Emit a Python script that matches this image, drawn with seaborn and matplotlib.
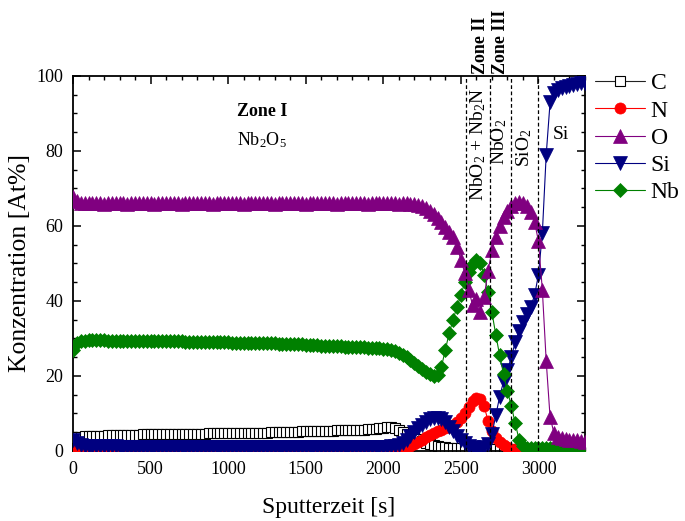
import matplotlib
matplotlib.use("Agg")
import matplotlib.pyplot as plt
import seaborn as sns
from matplotlib.ticker import MultipleLocator

# ---------------- data ----------------
TIME = [
    0, 25, 50, 75, 100, 125, 150, 175, 200, 225, 250, 275, 300, 325, 350, 375,
    400, 425, 450, 475, 500, 525, 550, 575, 600, 625, 650, 675, 700, 725, 750, 775,
    800, 825, 850, 875, 900, 925, 950, 975, 1000, 1025, 1050, 1075, 1100, 1125, 1150, 1175,
    1200, 1225, 1250, 1275, 1300, 1325, 1350, 1375, 1400, 1425, 1450, 1475, 1500, 1525, 1550, 1575,
    1600, 1625, 1650, 1675, 1700, 1725, 1750, 1775, 1800, 1825, 1850, 1875, 1900, 1925, 1950, 1975,
    2000, 2025, 2050, 2075, 2100, 2125, 2150, 2175, 2200, 2225, 2250, 2275, 2300, 2325, 2350, 2375,
    2400, 2425, 2450, 2475, 2500, 2525, 2550, 2575, 2600, 2625, 2650, 2675, 2700, 2725, 2750, 2775,
    2800, 2825, 2850, 2875, 2900, 2925, 2950, 2975, 3000, 3025, 3050, 3075, 3100, 3125, 3150, 3175,
    3200, 3225, 3250, 3275, 3300,
]

C = [
    3.2, 3.6, 3.8, 3.9, 4.0, 4.0, 4.1, 4.1, 4.1, 4.2, 4.2, 4.2, 4.2, 4.3, 4.3, 4.3,
    4.3, 4.3, 4.4, 4.4, 4.4, 4.4, 4.4, 4.5, 4.5, 4.5, 4.5, 4.5, 4.5, 4.6, 4.6, 4.6,
    4.6, 4.6, 4.6, 4.7, 4.7, 4.7, 4.7, 4.7, 4.7, 4.8, 4.8, 4.8, 4.8, 4.8, 4.9, 4.9,
    4.9, 4.9, 4.9, 5.0, 5.0, 5.0, 5.0, 5.1, 5.1, 5.1, 5.1, 5.2, 5.2, 5.2, 5.3, 5.3,
    5.3, 5.4, 5.4, 5.4, 5.5, 5.5, 5.5, 5.6, 5.6, 5.6, 5.7, 5.7, 5.8, 5.8, 5.9, 6.0,
    6.1, 6.3, 6.3, 6.0, 5.5, 5.0, 4.5, 4.0, 3.6, 3.1, 2.6, 2.2, 1.9, 1.6, 1.3, 1.1,
    1.0, 0.9, 0.8, 0.8, 0.7, 0.7, 0.6, 0.6, 0.5, 0.5, 0.5, 0.5, 0.4, 0.4, 0.4, 0.4,
    0.4, 0.4, 0.3, 0.3, 0.3, 0.3, 0.3, 0.3, 0.3, 0.3, 0.3, 0.3, 0.3, 0.3, 0.3, 0.3,
    0.3, 0.3, 0.3, 0.3, 0.3,
]

N = [
    0.3, 0.3, 0.3, 0.3, 0.3, 0.3, 0.3, 0.3, 0.3, 0.3, 0.3, 0.3, 0.3, 0.3, 0.3, 0.3,
    0.3, 0.3, 0.3, 0.3, 0.3, 0.3, 0.3, 0.3, 0.3, 0.3, 0.3, 0.3, 0.3, 0.3, 0.3, 0.3,
    0.3, 0.3, 0.3, 0.3, 0.3, 0.3, 0.3, 0.3, 0.3, 0.3, 0.3, 0.3, 0.3, 0.3, 0.3, 0.3,
    0.3, 0.3, 0.3, 0.3, 0.3, 0.3, 0.3, 0.3, 0.3, 0.3, 0.3, 0.3, 0.3, 0.3, 0.3, 0.3,
    0.3, 0.3, 0.3, 0.3, 0.3, 0.3, 0.3, 0.3, 0.3, 0.3, 0.3, 0.3, 0.3, 0.3, 0.3, 0.3,
    0.3, 0.3, 0.3, 0.3, 0.4, 0.6, 0.9, 1.3, 1.8, 2.4, 3.0, 3.6, 4.2, 4.8, 5.3, 5.7,
    6.0, 6.4, 7.0, 7.8, 8.8, 10.2, 11.8, 13.3, 14.2, 13.8, 12.0, 8.0, 5.2, 3.5, 2.3, 1.5,
    1.0, 0.6, 0.4, 0.3, 0.3, 0.3, 0.3, 0.3, 0.3, 0.3, 0.3, 0.3, 0.3, 0.3, 0.3, 0.3,
    0.3, 0.3, 0.3, 0.3, 0.3,
]

O = [
    67.8, 66.6, 66.2, 66.0, 66.0, 66.1, 66.0, 66.0, 65.9, 66.0, 66.0, 66.1, 66.0, 66.0, 65.9, 66.0,
    66.0, 66.0, 66.1, 66.0, 66.0, 65.9, 66.0, 66.0, 66.0, 66.1, 66.0, 66.0, 65.9, 66.0, 66.0, 66.0,
    66.0, 66.1, 66.0, 66.0, 65.9, 66.0, 66.0, 66.0, 66.0, 66.1, 66.0, 66.0, 65.9, 66.0, 66.0, 66.0,
    66.0, 66.1, 66.0, 66.0, 65.9, 66.0, 66.0, 66.0, 66.0, 66.1, 66.0, 66.0, 65.9, 66.0, 66.0, 66.0,
    66.0, 66.1, 66.0, 66.0, 65.9, 66.0, 66.0, 66.0, 66.0, 66.1, 66.0, 66.0, 65.9, 66.0, 66.0, 66.0,
    66.0, 66.1, 66.0, 66.0, 65.9, 66.0, 66.0, 65.9, 65.8, 65.5, 65.2, 64.7, 64.0, 63.2, 62.2, 61.0,
    59.8, 58.5, 57.0, 54.5, 51.0, 47.5, 43.0, 39.0, 40.5, 37.0, 41.0, 48.0, 53.5, 57.0, 60.0, 62.3,
    64.0, 65.2, 66.0, 66.4, 66.2, 65.3, 63.7, 61.0, 56.0, 43.0, 24.0, 9.0, 4.8, 3.8, 3.4, 3.2,
    3.0, 2.9, 2.8, 2.6, 2.5,
]

Si = [
    3.0, 2.2, 1.7, 1.4, 1.2, 1.2, 1.2, 1.2, 1.2, 1.2, 1.2, 1.2, 1.1, 1.1, 1.1, 1.1,
    1.1, 1.1, 1.1, 1.1, 1.1, 1.1, 1.1, 1.1, 1.1, 1.1, 1.1, 1.1, 1.0, 1.0, 1.0, 1.0,
    1.0, 1.0, 1.0, 1.0, 1.0, 1.0, 1.0, 1.0, 1.0, 1.0, 1.0, 1.0, 1.0, 1.0, 1.0, 1.0,
    1.0, 1.0, 1.0, 1.0, 1.0, 1.0, 1.0, 1.0, 1.0, 1.0, 1.0, 1.0, 1.0, 1.0, 1.0, 1.0,
    1.0, 1.0, 1.0, 1.0, 1.0, 1.0, 1.0, 1.0, 1.0, 1.0, 1.0, 1.0, 1.0, 1.0, 1.0, 1.0,
    1.0, 1.1, 1.2, 1.3, 1.6, 2.2, 3.0, 4.0, 5.0, 6.0, 7.0, 7.8, 8.4, 8.8, 8.9, 8.5,
    7.6, 6.5, 5.2, 4.0, 2.9, 2.0, 1.4, 1.0, 0.8, 0.8, 1.0, 1.8, 4.5, 9.5, 14.5, 18.5,
    21.5, 25.0, 29.0, 32.0, 34.5, 36.5, 38.5, 41.5, 47.0, 58.0, 79.0, 93.0, 95.5, 96.2, 96.7, 97.0,
    97.3, 97.6, 97.8, 98.0, 98.2,
]

Nb = [
    27.0, 28.8, 29.3, 29.4, 29.5, 29.5, 29.5, 29.5, 29.5, 29.4, 29.4, 29.4, 29.4, 29.4, 29.4, 29.4,
    29.4, 29.3, 29.3, 29.3, 29.3, 29.3, 29.3, 29.2, 29.2, 29.2, 29.2, 29.2, 29.2, 29.1, 29.1, 29.1,
    29.1, 29.1, 29.1, 29.0, 29.0, 29.0, 29.0, 29.0, 29.0, 28.9, 28.9, 28.9, 28.9, 28.9, 28.8, 28.8,
    28.8, 28.8, 28.7, 28.7, 28.7, 28.6, 28.6, 28.6, 28.5, 28.5, 28.4, 28.4, 28.3, 28.3, 28.2, 28.2,
    28.1, 28.1, 28.0, 28.0, 27.9, 27.9, 27.8, 27.8, 27.7, 27.7, 27.6, 27.6, 27.5, 27.5, 27.4, 27.4,
    27.3, 27.1, 26.9, 26.6, 26.2, 25.6, 25.0, 24.3, 23.5, 22.7, 21.9, 21.1, 20.4, 19.9, 20.2, 22.5,
    27.0, 31.5, 35.0, 38.5, 41.5, 45.0, 47.8, 49.8, 50.8, 50.0, 47.0, 42.5, 37.0, 31.0, 25.5, 20.5,
    16.0, 12.0, 7.5, 3.0, 1.2, 0.9, 0.8, 0.8, 0.8, 0.8, 0.8, 0.8, 0.8, 0.8, 0.8, 0.8,
    0.8, 0.8, 0.8, 0.8, 0.8,
]

ELEMENTS = ["C", "N", "O", "Si", "Nb"]
SERIES = {"C": C, "N": N, "O": O, "Si": Si, "Nb": Nb}
ZONE_BOUNDS = [2530, 2685, 2820, 3000]

# ---------------- style ----------------
sns.set_theme(style="ticks")
plt.rcParams["font.family"] = ["Liberation Serif", "DejaVu Serif"]
plt.rcParams["mathtext.fontset"] = "custom"
plt.rcParams["mathtext.rm"] = "Liberation Serif"
plt.rcParams["mathtext.it"] = "Liberation Serif:italic"
plt.rcParams["mathtext.bf"] = "Liberation Serif:bold"
plt.rcParams["text.color"] = "black"
plt.rcParams["axes.labelcolor"] = "black"
plt.rcParams["xtick.color"] = "black"
plt.rcParams["ytick.color"] = "black"
plt.rcParams["axes.edgecolor"] = "black"

STYLE = {
    "C":  dict(color="#222222", marker="s", markersize=6.5, markerfacecolor="white",
               markeredgecolor="black", markeredgewidth=0.8, zorder=2),
    "N":  dict(color="#ff0000", marker="o", markersize=8, markerfacecolor="#ff0000",
               markeredgecolor="#ff0000", markeredgewidth=0.5, zorder=3),
    "O":  dict(color="#800080", marker="^", markersize=9.5, markerfacecolor="#800080",
               markeredgecolor="#800080", markeredgewidth=0.5, zorder=6),
    "Si": dict(color="#000080", marker="v", markersize=9.5, markerfacecolor="#000080",
               markeredgecolor="#000080", markeredgewidth=0.5, zorder=4),
    "Nb": dict(color="#008000", marker="D", markersize=7, markerfacecolor="#008000",
               markeredgecolor="#008000", markeredgewidth=0.5, zorder=5),
}

fig = plt.figure(figsize=(6.85, 5.21), dpi=100)
ax = fig.add_axes([0.1066, 0.1344, 0.7474, 0.7198])

for el in ELEMENTS:
    sns.lineplot(x=TIME, y=SERIES[el], ax=ax, label=el, linewidth=0.8,
                 errorbar=None, **STYLE[el])

for xv in ZONE_BOUNDS:
    ax.axvline(xv, color="black", linestyle=(0, (3, 2)), linewidth=0.9, zorder=10)

ax.set_xlim(0, 3300)
ax.set_ylim(0, 100)
ax.xaxis.set_major_locator(MultipleLocator(500))
ax.xaxis.set_minor_locator(MultipleLocator(100))
ax.yaxis.set_major_locator(MultipleLocator(20))
ax.yaxis.set_minor_locator(MultipleLocator(5))
ax.tick_params(which="both", direction="in", top=True, right=True, colors="black")
ax.tick_params(which="major", length=6, width=1.1, labelsize=13, pad=7)
ax.tick_params(which="minor", length=3, width=1.0)
for s in ax.spines.values():
    s.set_linewidth(1.3)
    s.set_color("black")

ax.set_xlabel("Sputterzeit [s]", fontsize=17, labelpad=14)
ax.set_ylabel("Konzentration [At%]", fontsize=18.5, labelpad=4)

# annotations
ax.text(1220, 90.4, "Zone I", fontsize=13, fontweight="bold", ha="center", va="center")
ax.text(1215, 83, r"Nb$_\mathregular{2}$O$_\mathregular{5}$", fontsize=13, ha="center", va="center")
trans = ax.get_xaxis_transform()
ax.text(2627, 1.005, "Zone II", fontsize=13, fontweight="bold", rotation=90,
        ha="center", va="bottom", transform=trans)
ax.text(2755, 1.005, "Zone III", fontsize=13, fontweight="bold", rotation=90,
        ha="center", va="bottom", transform=trans)
ax.text(2614, 81.6, r"NbO$_\mathregular{2}$ + Nb$_\mathregular{2}$N", fontsize=14,
        rotation=90, ha="center", va="center", zorder=11)
ax.text(2745, 82.4, r"NbO$_\mathregular{2}$", fontsize=14, rotation=90,
        ha="center", va="center", zorder=11)
ax.text(2905, 80.8, r"SiO$_\mathregular{2}$", fontsize=14, rotation=90,
        ha="center", va="center", zorder=11)
ax.text(3147, 84.3, "Si", fontsize=14, ha="center", va="center", zorder=11)

leg = ax.legend(loc="upper left", bbox_to_anchor=(1.02, 1.008), frameon=False,
                fontsize=17, handlelength=2.1, handletextpad=0.25, labelspacing=0.24,
                borderaxespad=0, borderpad=0)

fig.savefig("out.png", dpi=100)
